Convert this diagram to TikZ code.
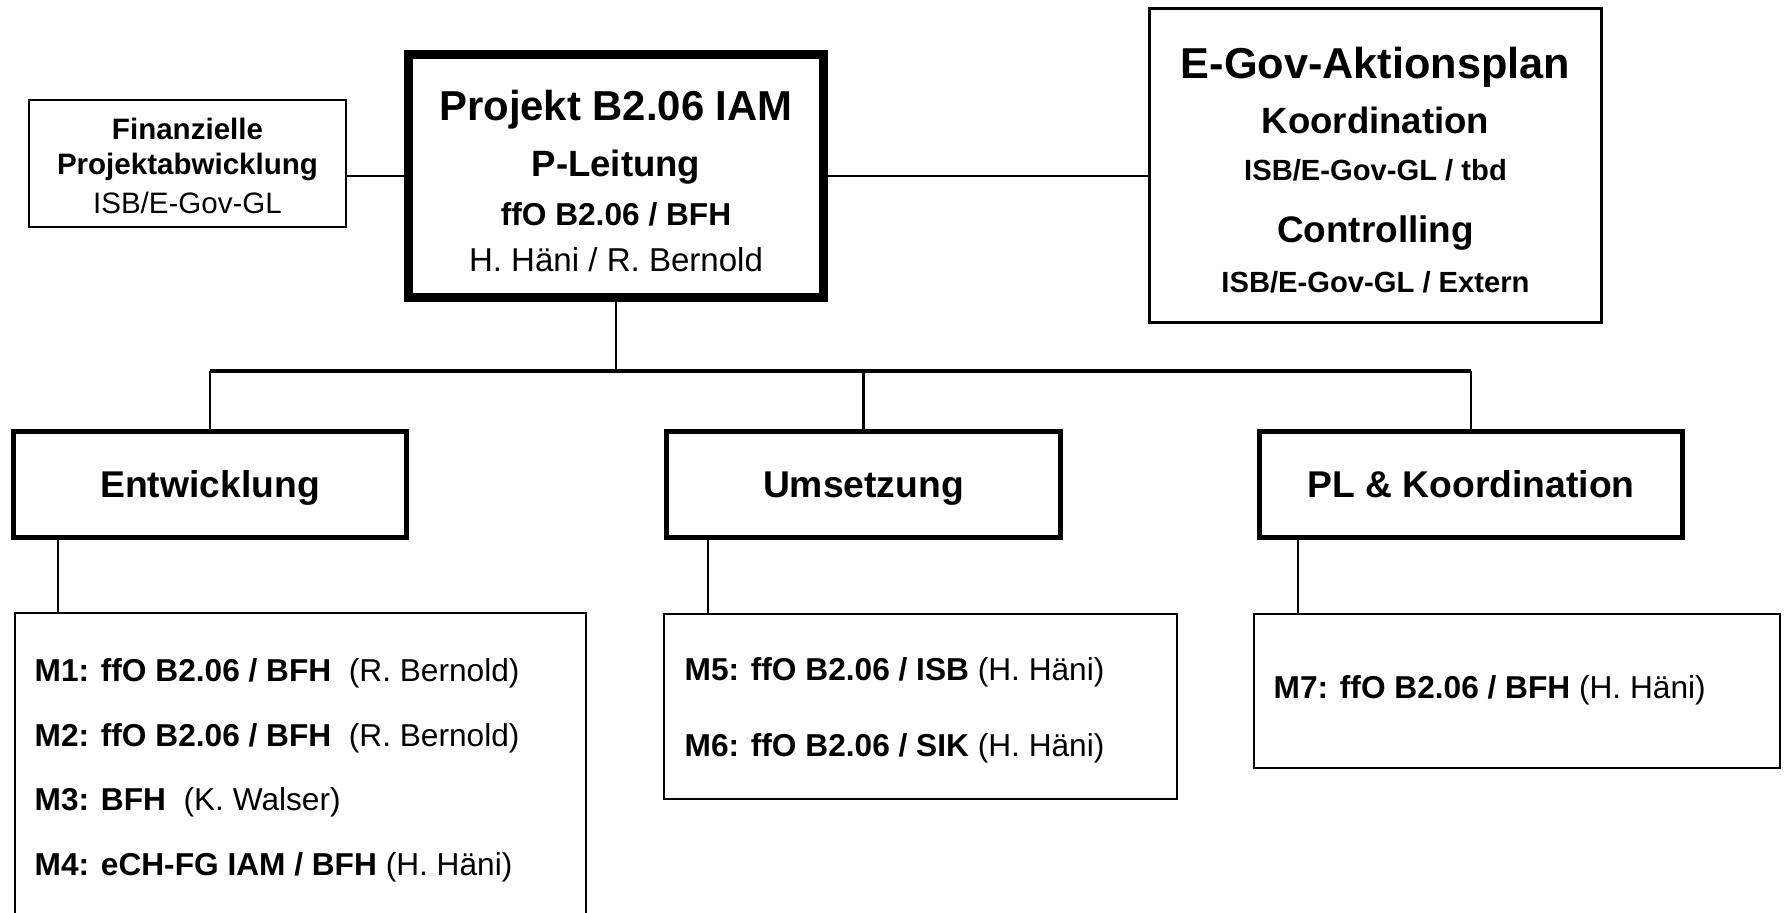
\documentclass[tikz,border=0pt]{standalone}
\usepackage{fontspec}
\setmainfont{Liberation Sans}
\usetikzlibrary{calc}

\tikzset{
  box/.style={draw, inner sep=0pt, line width=0.5pt},
  headbox/.style={box, line width=2.6pt},
  planbox/.style={box, line width=0.95pt},
  teambox/.style={box, line width=1.3pt, minimum height=1.06cm},
  link/.style={line width=0.5pt},
  stem/.style={line width=0.8pt},
  bus/.style={line width=1.1pt},
  bt/.style={anchor=base, inner sep=0pt, font=\fontsize{#1}{#1}\selectfont\bfseries},
  rt/.style={anchor=base, inner sep=0pt, font=\fontsize{#1}{#1}\selectfont},
  mt/.style={anchor=base west, inner sep=0pt, font=\fontsize{9}{9}\selectfont},
}

\begin{document}
\begin{tikzpicture}[x=0.01cm, y=-0.01cm]
\useasboundingbox (0,0) rectangle (1787,913);

% top row
\node[box, minimum width=3.17cm, minimum height=1.27cm] (fin) at (187.5,163.5) {};
\node[headbox, minimum width=4.15cm, minimum height=2.43cm] (proj) at (616,176) {};
\node[planbox, minimum width=4.52cm, minimum height=3.14cm] (egov) at (1375.5,165.5) {};

\node[bt=8.4] (finA) at (187.5,139.5) {Finanzielle};
\node[bt=8.4] (finB) at (187.5,174.5) {Projektabwicklung};
\node[rt=8.4] (finC) at (187.5,214) {ISB/E-Gov-GL};

\node[bt=11.9] (projA) at (616,121) {Projekt B2.06 IAM};
\node[bt=10.4] (projB) at (616,177) {P-Leitung};
\node[bt=9] (projC) at (616,226) {ffO B2.06 / BFH};
\node[rt=9.4] (projD) at (616,272) {H. Häni / R. Bernold};

\node[bt=12.3] (egovA) at (1375.5,79) {E-Gov-Aktionsplan};
\node[bt=10.4] (egovB) at (1375.5,134) {Koordination};
\node[bt=8.3] (egovC) at (1375.5,180.5) {ISB/E-Gov-GL / tbd};
\node[bt=10.5] (egovD) at (1375.5,243) {Controlling};
\node[bt=8.3] (egovE) at (1375.5,293) {ISB/E-Gov-GL / Extern};

\draw[link] (fin.east |- proj.west) -- (proj.west);
\draw[link] (proj.east) -- (egov.west |- proj.east);

% teams
\node[teambox, minimum width=3.93cm] (ent) at (210,484.5) {};
\node[teambox, minimum width=3.94cm] (ums) at (863.5,484.5) {};
\node[teambox, minimum width=4.23cm] (plk) at (1471,484.5) {};
\node[bt=10.6] (entT) at (210,498) {Entwicklung};
\node[bt=10.6] (umsT) at (863.5,498) {Umsetzung};
\node[bt=10.6] (plkT) at (1471,498) {PL \& Koordination};

\coordinate (busmid) at (proj.south |- 0,371);
\draw[stem] (proj.south) -- (busmid);
\draw[bus] (ent.north |- busmid) -- (plk.north |- busmid);
\foreach \b in {ent,ums,plk}
  \draw[stem] (\b.north |- busmid) -- (\b.north);

% modules
\node[box, minimum width=5.71cm, minimum height=3.17cm] (mA) at (300.5,771.5) {};
\node[box, minimum width=5.13cm, minimum height=1.85cm] (mB) at (920.5,706.5) {};
\node[box, minimum width=5.26cm, minimum height=1.54cm] (mC) at (1517,691) {};

\coordinate (dA) at ($(mA.north west)+(44,0)$);
\coordinate (dB) at ($(mB.north west)+(45,0)$);
\coordinate (dC) at ($(mC.north west)+(45,0)$);
\draw[stem] (dA |- ent.south) -- (dA);
\draw[stem] (dB |- ums.south) -- (dB);
\draw[stem] (dC |- plk.south) -- (dC);

\node[mt] (m1) at (34,682) {\textbf{M1: ffO B2.06 / BFH}~~(R. Bernold)};
\node[mt] (m2) at (34,747) {\textbf{M2: ffO B2.06 / BFH}~~(R. Bernold)};
\node[mt] (m3) at (34,811) {\textbf{M3: BFH}~~(K. Walser)};
\node[mt] (m4) at (34,876) {\textbf{M4: eCH-FG IAM / BFH} (H. Häni)};
\node[mt] (m5) at (684,681) {\textbf{M5: ffO B2.06 / ISB} (H. Häni)};
\node[mt] (m6) at (684,757) {\textbf{M6: ffO B2.06 / SIK} (H. Häni)};
\node[mt] (m7) at (1273,699) {\textbf{M7: ffO B2.06 / BFH} (H. Häni)};

\end{tikzpicture}
\end{document}
